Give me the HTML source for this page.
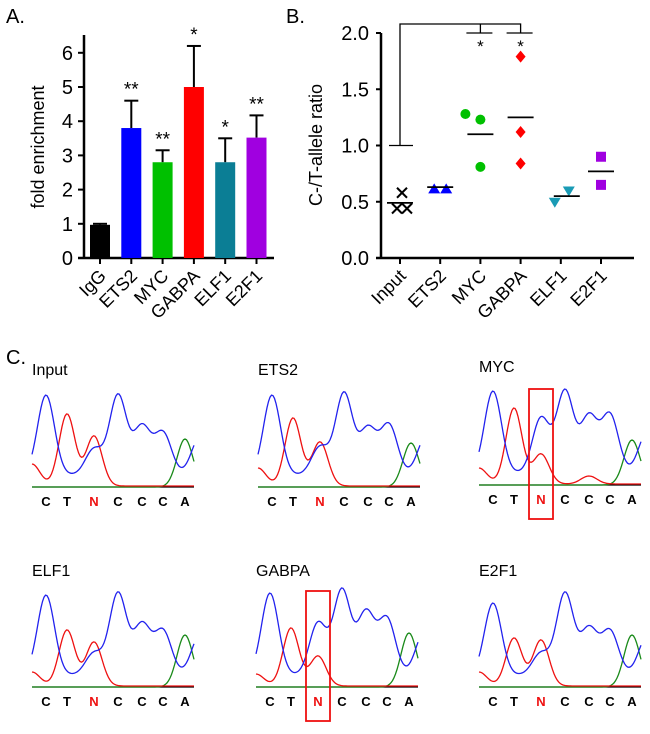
<!DOCTYPE html>
<html><head><meta charset="utf-8"><style>
body{margin:0;background:#fff;font-family:"Liberation Sans",Arial,sans-serif}
svg text{font-family:"Liberation Sans",Arial,sans-serif}
</style></head><body>
<svg id="fig" width="650" height="729" viewBox="0 0 650 729" xmlns="http://www.w3.org/2000/svg">
<text x="6" y="23" font-size="20">A.</text>
<text x="286" y="23" font-size="20">B.</text>
<text x="6" y="364" font-size="20">C.</text>
<g id="pa"></g>
<g id="pb"></g>
<g id="pc"></g>
</svg>
<script>
const NS="http://www.w3.org/2000/svg";
function mk(p,t,a){const e=document.createElementNS(NS,t);for(const k in a)e.setAttribute(k,a[k]);p.appendChild(e);return e;}
// ---------- Panel A data ----------
const catsA=["IgG","ETS2","MYC","GABPA","ELF1","E2F1"];
const valsA=[0.97,3.8,2.8,5.0,2.8,3.52];
const errTopA=[1.0,4.6,3.15,6.2,3.5,4.17];
const sigA=["","**","**","*","*","**"];
const ticksA=[0,1,2,3,4,5,6];
const colA=["#000","#0000ff","#00c000","#ff0000","#0b7e95","#a000e0"];
// ---------- Panel B data ----------
const catsB=["Input","ETS2","MYC","GABPA","ELF1","E2F1"];
const ptsB=[[0.58,0.44,0.44],[0.61,0.61],[1.28,1.23,0.81],[1.79,1.12,0.84],[0.50,0.60],[0.90,0.65]];
const meansB=[0.49,0.63,1.10,1.25,0.55,0.77];
const ticksB=[0,0.5,1.0,1.5,2.0];
const colB=["#000","#0000ff","#00c000","#ff0000","#1a9bb5","#a000e0"];
const shapesB=["x","tri","circ","dia","tri-down","sq"];

// Panel A
(function(){
const g=document.getElementById('pa');
const y=v=>258-v*34.2, x=i=>100+i*31.3;
mk(g,'line',{x1:84,y1:35,x2:84,y2:259,stroke:'#000','stroke-width':2.5});
mk(g,'line',{x1:78,y1:258,x2:274,y2:258,stroke:'#000','stroke-width':2.5});
ticksA.forEach(t=>{mk(g,'line',{x1:78,y1:y(t),x2:84,y2:y(t),stroke:'#000','stroke-width':2});
 const tx=mk(g,'text',{x:73,y:y(t)+7,'font-size':20,'text-anchor':'end'});tx.textContent=t;
 });
const yl=mk(g,'text',{x:0,y:0,'font-size':18,'text-anchor':'middle',transform:'translate(44,147) rotate(-90)'});yl.textContent='fold enrichment';

catsA.forEach((c,i)=>{const cx=x(i);
 mk(g,'line',{x1:cx,y1:y(valsA[i]),x2:cx,y2:y(errTopA[i]),stroke:'#000','stroke-width':2});
 mk(g,'line',{x1:cx-7,y1:y(errTopA[i]),x2:cx+7,y2:y(errTopA[i]),stroke:'#000','stroke-width':2});
 const b=mk(g,'rect',{x:cx-10,y:y(valsA[i]),width:20,height:258-y(valsA[i]),fill:colA[i]});
 
 mk(g,'line',{x1:cx,y1:258,x2:cx,y2:264,stroke:'#000','stroke-width':2});
 if(sigA[i]){const s=mk(g,'text',{x:cx,y:y(errTopA[i])-5,'font-size':19,'text-anchor':'middle'});s.textContent=sigA[i];
  }
 const t=mk(g,'text',{x:0,y:0,'font-size':18,'text-anchor':'end',transform:`translate(${cx+7},${277}) rotate(-45)`});t.textContent=c;
 
});
})();
// Panel B
(function(){
const g=document.getElementById('pb');
const y=v=>258-v*112.5, x=i=>400+i*40.2;
mk(g,'line',{x1:381,y1:33,x2:381,y2:259,stroke:'#000','stroke-width':2.5});
mk(g,'line',{x1:376,y1:258,x2:634,y2:258,stroke:'#000','stroke-width':2.5});
ticksB.forEach(t=>{mk(g,'line',{x1:376,y1:y(t),x2:381,y2:y(t),stroke:'#000','stroke-width':2});
 const tx=mk(g,'text',{x:369,y:y(t)+7,'font-size':20,'text-anchor':'end'});tx.textContent=t.toFixed(1);
 });
const yl=mk(g,'text',{x:0,y:0,'font-size':18,'text-anchor':'middle',transform:'translate(322,145) rotate(-90)'});yl.textContent='C-/T-allele ratio';

const br=mk(g,'path',{d:`M389 ${y(1)} H413 M400 ${y(1)} V24 H${x(3)} V33 M${x(2)} 24 V33 M${x(2)-14} 33 H${x(2)+12} M${x(3)-14} 33 H${x(3)+12}`,fill:'none',stroke:'#000','stroke-width':1.3});

[2,3].forEach(i=>{const s=mk(g,'text',{x:x(i),y:52,'font-size':17,'text-anchor':'middle'});s.textContent='*';
 });
const offs=[[2,-3,7],[-6,6],[-15,0,0],[0,0,0],[-6,8],[0,0]];
catsB.forEach((c,i)=>{const cx=x(i);
 mk(g,'line',{x1:cx,y1:258,x2:cx,y2:264,stroke:'#000','stroke-width':2});
 ptsB[i].forEach((v,j)=>{const px=cx+offs[i][j],py=y(v),col=colB[i];let m;
  switch(shapesB[i]){
   case 'x':m=mk(g,'path',{d:`M${px-5} ${py-5}L${px+5} ${py+5}M${px+5} ${py-5}L${px-5} ${py+5}`,stroke:col,'stroke-width':2});break;
   case 'tri':m=mk(g,'path',{d:`M${px} ${py-6}L${px+6} ${py+4}L${px-6} ${py+4}Z`,fill:col});break;
   case 'tri-down':m=mk(g,'path',{d:`M${px-6} ${py-4}L${px+6} ${py-4}L${px} ${py+6}Z`,fill:col});break;
   case 'circ':m=mk(g,'circle',{cx:px,cy:py,r:5,fill:col});break;
   case 'dia':m=mk(g,'path',{d:`M${px} ${py-6}L${px+5} ${py}L${px} ${py+6}L${px-5} ${py}Z`,fill:col});break;
   case 'sq':m=mk(g,'rect',{x:px-5,y:py-5,width:10,height:10,fill:col});break;}
  });
 const mo=[0,0,0,0,6,0][i];
 const ml=mk(g,'line',{x1:cx-13+mo,y1:y(meansB[i]),x2:cx+13+mo,y2:y(meansB[i]),stroke:'#000','stroke-width':1.8});
 
 const t=mk(g,'text',{x:0,y:0,'font-size':18,'text-anchor':'end',transform:`translate(${cx+7},${277}) rotate(-45)`});t.textContent=c;
 
});
})();
// Panel C chromatograms
(function(){
const g=document.getElementById('pc');
const pos=[14,35,62,86,110,131,153];
const bases=["C","T","N","C","C","C","A"];
const panels=[
 [32,487,"Input",375,[[14,80],[62,26],[86,80],[110,48],[131,42],[168,38]],[[0,22],[35,72],[62,50]],[[153,48]],false],
 [258,487,"ETS2",375,[[14,80],[62,28],[86,82],[110,46],[131,50],[168,38]],[[0,18],[35,68],[62,44]],[[153,44]],false],
 [479,485,"MYC",372,[[14,82],[62,55],[86,82],[110,56],[131,58],[168,40]],[[0,16],[35,76],[62,30],[110,8]],[[153,45]],true],
 [32,687,"ELF1",576,[[14,80],[62,22],[86,82],[110,50],[131,44],[168,40]],[[0,14],[35,56],[62,44]],[[153,52]],false],
 [256,687,"GABPA",576,[[14,82],[62,52],[86,85],[110,62],[131,56],[168,42]],[[0,12],[35,58],[62,30]],[[153,54]],true],
 [479,687,"E2F1",576,[[14,72],[62,22],[86,82],[110,46],[131,44],[168,38]],[[0,14],[35,48],[62,46]],[[153,52]],false]
];
panels.forEach(p=>{const [x0,b,lab,ly,bl,rd,gr,box]=p;
 const l=mk(g,'text',{x:x0,y:ly,'font-size':16});l.textContent=lab;
 
 function trace(peaks,col,base,sig){let d='';for(let t=0;t<=162;t+=1.5){let v=base;peaks.forEach(([c,h])=>{v+=h*Math.exp(-((t-c)*(t-c))/(2*sig*sig));});d+=(t?'L':'M')+(x0+t).toFixed(1)+' '+(b-v).toFixed(1);}
  const e=mk(g,'path',{d:d,fill:'none',stroke:col,'stroke-width':1.3});}
 mk(g,'line',{x1:x0,y1:b,x2:x0+162,y2:b,stroke:'#000','stroke-width':1.3});
 trace(gr,'#1a8a1a',0,8);
 trace(rd,'#ee1111',1,8);
 trace(bl,'#2222ee',12,8.5);
 bases.forEach((s,i)=>{const t=mk(g,'text',{x:x0+pos[i],y:b+19,'font-size':13,'font-weight':'bold','text-anchor':'middle',fill:s==='N'?'#ee1111':'#000'});t.textContent=s;
  });
 if(box){const r=mk(g,'rect',{x:x0+pos[2]-12,y:b-96,width:24,height:130,fill:'none',stroke:'#ee1111','stroke-width':1.8});
  }
});
})();
</script>
</body></html>
